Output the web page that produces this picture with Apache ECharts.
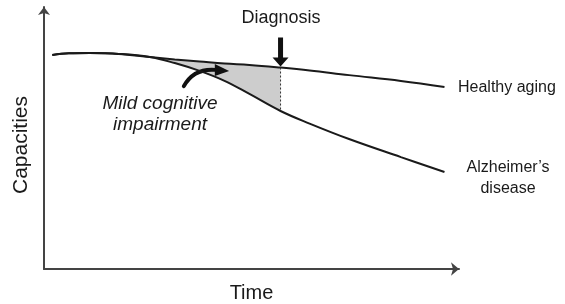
<!DOCTYPE html>
<html>
<head>
<meta charset="utf-8">
<script src="https://cdn.jsdelivr.net/npm/echarts@6/dist/echarts.min.js"></script>
<style>
  html, body { margin: 0; padding: 0; background: #fff; }
</style>
</head>
<body>
<div id="chart" style="width: 565px; height: 304px"></div>
<script>
// time points (x, 0-100) and capacity values (y, 0-100)
const timeX = [2, 6, 11, 18, 25.5, 31.5, 37.5, 43.5, 49.5, 57, 64, 73.5, 86, 96.5];
const healthy = [81.7, 82.3, 82.4, 82.1, 80.9, 80.0, 79.2, 78.4, 77.9, 76.9, 75.8, 74.0, 71.8, 69.5];
const alzheimers = [81.7, 82.3, 82.4, 82.1, 80.9, 78.6, 75.6, 71.8, 66.8, 60.3, 55.5, 49.6, 42.7, 37.0];
// shaded MCI band runs between these indices
const mciFrom = 4;
const mciTo = 9;
const diagnosisIndex = 9;
// curved arrow (tail, control, end, tip) in data units
const mciArrow = [33.7, 69.8, 36.1, 76.7, 41.4, 76.0, 44.6, 75.6];

const FONT = 'Liberation Sans, Arial, sans-serif';
const INK = '#1a1a1a';

const chart = echarts.init(document.getElementById('chart'));

const pairs = (ys) => timeX.map((x, i) => [x, ys[i]]);
// band outline: along healthy, back along alzheimer's
const bandData = [];
for (let i = mciFrom; i <= mciTo; i++) bandData.push([timeX[i], healthy[i]]);
for (let i = mciTo; i >= mciFrom; i--) bandData.push([timeX[i], alzheimers[i]]);
const dx = timeX[diagnosisIndex];

const option = {
  animation: false,
  grid: { left: 44, top: 7, right: 106, bottom: 35, outerBoundsMode: 'none', containLabel: false },
  xAxis: {
    type: 'value',
    min: 0,
    max: 100,
    name: 'Time',
    nameLocation: 'middle',
    nameGap: 14,
    nameTextStyle: { fontSize: 20, color: INK, fontFamily: FONT },
    axisLine: {
      show: true,
      onZero: false,
      symbol: ['none', 'arrow'],
      symbolSize: [10, 8],
      lineStyle: { color: '#444', width: 2 },
    },
    axisTick: { show: false },
    axisLabel: { show: false },
    splitLine: { show: false },
  },
  yAxis: {
    type: 'value',
    min: 0,
    max: 100,
    name: 'Capacities',
    nameLocation: 'middle',
    nameRotate: 90,
    nameGap: 12,
    nameTextStyle: { fontSize: 21, color: INK, fontFamily: FONT, padding: [0, 14, 0, 0] },
    axisLine: {
      show: true,
      onZero: false,
      symbol: ['none', 'arrow'],
      symbolSize: [9, 8],
      lineStyle: { color: '#444', width: 2 },
    },
    axisTick: { show: false },
    axisLabel: { show: false },
    splitLine: { show: false },
  },
  series: [
    // shaded band between the two curves
    {
      type: 'custom',
      silent: true,
      data: [0],
      renderItem(params, api) {
        const pts = bandData.map((d) => api.coord(d));
        return {
          type: 'polygon',
          shape: { points: pts },
          style: { fill: '#cdcdcd' },
        };
      },
    },
    {
      name: 'Healthy aging',
      type: 'line',
      data: pairs(healthy),
      smooth: 0.4,
      showSymbol: false,
      lineStyle: { color: INK, width: 2 },
    },
    {
      name: "Alzheimer's disease",
      type: 'line',
      data: pairs(alzheimers),
      smooth: 0.4,
      showSymbol: false,
      lineStyle: { color: INK, width: 2 },
    },
    // dotted diagnosis line
    {
      type: 'line',
      data: [[dx, healthy[diagnosisIndex]], [dx, alzheimers[diagnosisIndex]]],
      showSymbol: false,
      lineStyle: { color: '#333', width: 1, type: [2, 2] },
    },
    // diagnosis arrow
    {
      type: 'custom',
      data: [[dx, healthy[diagnosisIndex]]],
      renderItem(params, api) {
        const p = api.coord([api.value(0), api.value(1)]);
        return {
          type: 'polygon',
          shape: {
            points: [
              [p[0] - 2.5, p[1] - 30],
              [p[0] + 2.5, p[1] - 30],
              [p[0] + 2.5, p[1] - 10],
              [p[0] + 8, p[1] - 10],
              [p[0], p[1] - 1],
              [p[0] - 8, p[1] - 10],
              [p[0] - 2.5, p[1] - 10],
            ],
          },
          style: { fill: '#111' },
        };
      },
    },
    // curved MCI arrow
    {
      type: 'custom',
      data: [mciArrow],
      renderItem(params, api) {
        const c = (i) => api.coord([api.value(i), api.value(i + 1)]);
        const a = c(0), b = c(2), e = c(4), t = c(6);
        return {
          type: 'group',
          children: [
            {
              type: 'bezierCurve',
              shape: { x1: a[0], y1: a[1], cpx1: b[0], cpy1: b[1], x2: e[0], y2: e[1] },
              style: { stroke: '#111', lineWidth: 4, fill: null, lineCap: 'round' },
            },
            {
              type: 'polygon',
              shape: { points: [[e[0] - 1, e[1] - 6], [t[0], t[1]], [e[0] - 1, e[1] + 6]] },
              style: { fill: '#111' },
            },
          ],
        };
      },
    },
  ],
  graphic: [
    {
      type: 'text',
      x: 281,
      y: 18,
      style: {
        text: 'Diagnosis',
        font: '18px ' + FONT,
        fill: INK,
        align: 'center',
        verticalAlign: 'middle',
      },
    },
    {
      type: 'text',
      x: 160,
      y: 114,
      style: {
        text: 'Mild cognitive\nimpairment',
        font: 'italic 19px ' + FONT,
        fill: INK,
        align: 'center',
        verticalAlign: 'middle',
        lineHeight: 21,
      },
    },
    {
      type: 'text',
      x: 458,
      y: 88,
      style: {
        text: 'Healthy aging',
        font: '16px ' + FONT,
        fill: INK,
        align: 'left',
        verticalAlign: 'middle',
      },
    },
    {
      type: 'text',
      x: 508,
      y: 178,
      style: {
        text: 'Alzheimer\u2019s\ndisease',
        font: '16px ' + FONT,
        fill: INK,
        align: 'center',
        verticalAlign: 'middle',
        lineHeight: 21,
      },
    },
  ],
};

chart.setOption(option);
</script>
</body>
</html>
